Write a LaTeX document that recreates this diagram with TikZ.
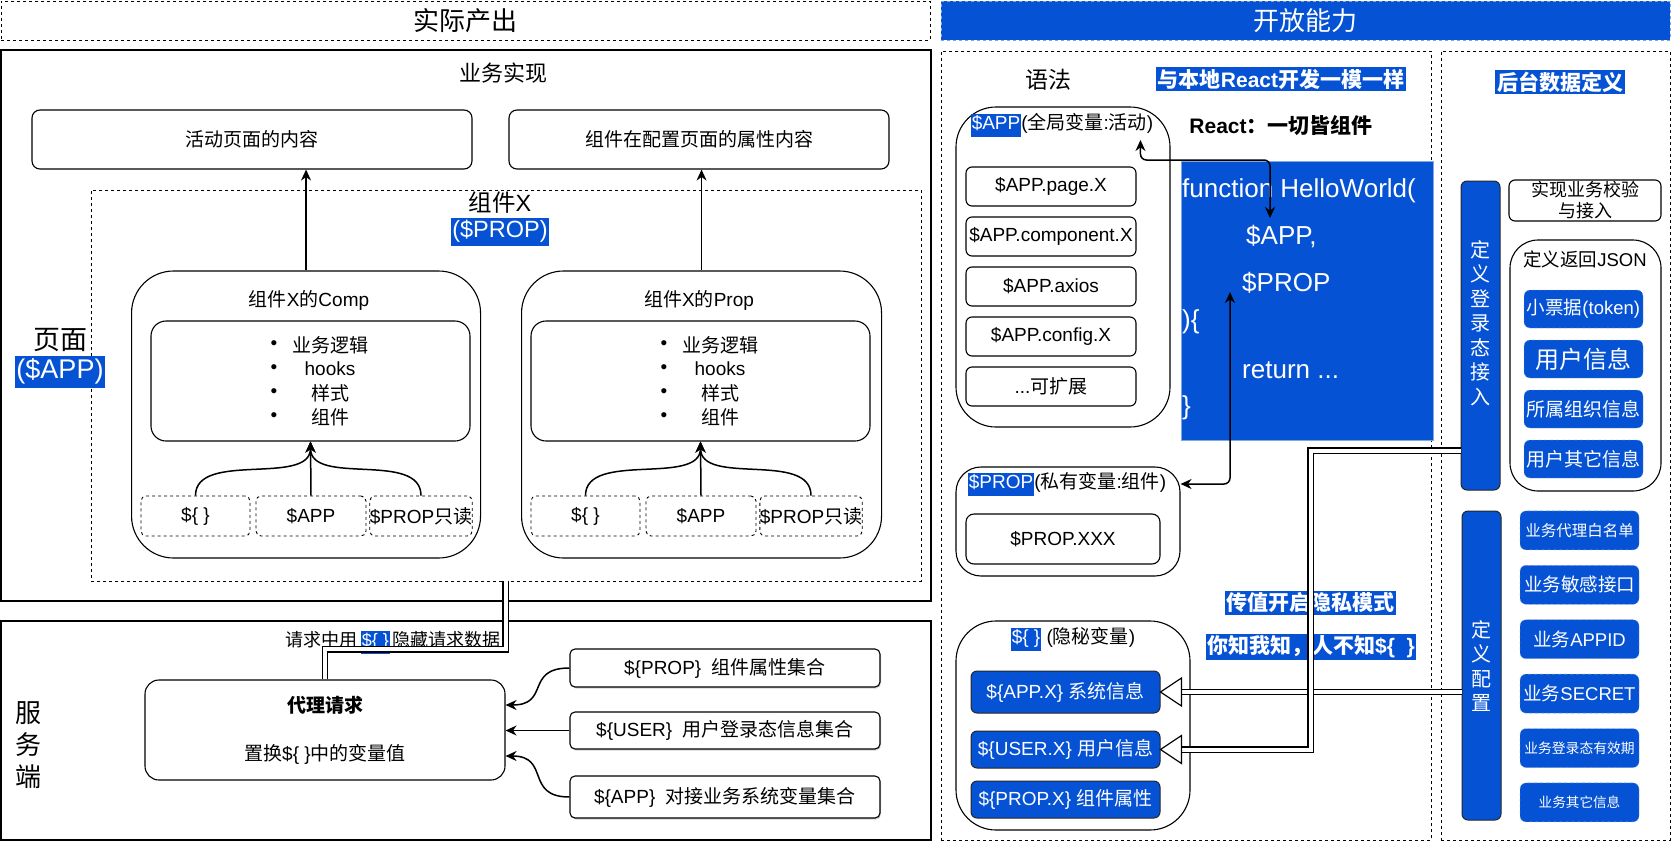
\documentclass[tikz,border=0pt]{standalone}
\usepackage{fontspec}
\setmainfont{Liberation Sans}
\newfontfamily\cjkfam{Noto Sans CJK SC}
\usepackage{xcolor}
\usepackage{tikz}
\usetikzlibrary{arrows.meta, positioning, calc, shadows}
\definecolor{ablblue}{HTML}{0652D5}
\definecolor{abledge}{HTML}{7EA6E0}

% CJK runs switch to Noto Sans CJK SC, latin runs back to Liberation Sans
\XeTeXinterchartokenstate=1
\newXeTeXintercharclass\cjkclass
\newcount\cjkcnt
\newcommand\cjkrange[2]{%
  \cjkcnt=#1\relax
  \loop\XeTeXcharclass\cjkcnt=\cjkclass\relax
    \advance\cjkcnt by 1\relax
  \ifnum\cjkcnt<#2\relax\repeat}
\cjkrange{"3000}{"3040}
\cjkrange{"4E00}{"A000}
\cjkrange{"FF00}{"FFF0}
\XeTeXinterchartoks 0 \cjkclass = {\cjkfam}
\XeTeXinterchartoks 4095 \cjkclass = {\cjkfam}
\XeTeXinterchartoks \cjkclass 0 = {\rmfamily}
\XeTeXinterchartoks \cjkclass 4095 = {\rmfamily}

% highlighted label text
\newcommand\hlt[1]{{\setlength{\fboxsep}{1pt}\colorbox{ablblue}{\color{white}\strut #1}}}
\newcommand\moredots{...}

\tikzset{
  panel/.style={draw, line width=1.1pt},
  dashpanel/.style={draw, dashed, line width=0.8pt},
  card/.style={draw, line width=1.1pt, rounded corners=8pt, align=center, font=\fontsize{19}{23}\selectfont},
  setcard/.style={card, fill=white, rounded corners=5pt, minimum width=310pt, drop shadow={shadow xshift=1pt, shadow yshift=-1.5pt, fill=black!35}},
  slot/.style={draw, dashed, line width=0.9pt, rounded corners=5pt, font=\fontsize{19}{23}\selectfont},
  codeline/.style={anchor=west, inner sep=0pt, text=white, font=\fontsize{26}{30}\selectfont},
  secretItem/.style={draw=black!85, line width=1pt, fill=ablblue, text=white, rounded corners=6pt, minimum width=189pt, minimum height=37pt, inner sep=0pt, font=\fontsize{19}{23}\selectfont},
  defItem/.style={draw=abledge, dashed, fill=ablblue, text=white, rounded corners=6pt, minimum width=119pt, minimum height=38pt, inner sep=0pt},
  hint/.style={fill=ablblue, text=white, inner sep=1.5pt, font=\bfseries\fontsize{21}{25}\selectfont},
  bar/.style={draw=black!85, line width=1pt, fill=ablblue, rounded corners=6pt, minimum width=39pt, minimum height=309pt},
  barText/.style={text=white, align=center, font=\fontsize{20}{24.5}\selectfont},
  link/.style={-{Stealth[length=11pt,width=10pt]}, line width=1.5pt},
  dlink/.style={{Stealth[length=11pt,width=10pt]}-{Stealth[length=11pt,width=10pt]}, line width=1.5pt, rounded corners=6pt},
  dbl/.style={double, double distance=4pt, line width=1.1pt},
  hollowTip/.style={draw, fill=white, line width=1.2pt, line join=miter}
}

\begin{document}
\begin{tikzpicture}[x=1pt, y=-1pt]
  % Canvas
  \fill[white] (0,0) rectangle (1671,841);
  \useasboundingbox (0,0) rectangle (1671,841);

  % Header bars
  \node[dashpanel, minimum width=929pt, minimum height=39pt, font=\fontsize{26}{30}\selectfont] (hdrOut) at (465.5,20.5) {实际产出};
  \node[draw=abledge, dashed, fill=ablblue, text=white, minimum width=729pt, minimum height=39pt, font=\fontsize{26}{30}\selectfont] (hdrOpen) at (1305.5,20.5) {开放能力};

  % Business implementation (LEFT, TOP)
  \node[panel, minimum width=930pt, minimum height=551pt] (implPanel) at (466,325.5) {};
  \node[font=\fontsize{22}{26}\selectfont] (implTitle) at (503,73) {业务实现};
  \node[card, minimum width=440pt, minimum height=59pt] (pageOut) at (252,139.5) {活动页面的内容};
  \node[card, minimum width=380pt, minimum height=59pt] (propOut) at (699,139.5) {组件在配置页面的属性内容};
  \node[dashpanel, minimum width=830pt, minimum height=391pt] (compX) at (506,385.5) {};
  \node[font=\fontsize{23.5}{27}\selectfont] (compXTitle) at (500,203) {组件X};
  \node[font=\fontsize{23.5}{26}\selectfont, inner sep=0pt] (compXVar) at (500,232) {\hlt{(\$PROP)}};
  \node[font=\fontsize{27}{31}\selectfont] (pageTitle) at (60,340) {页面};
  \node[font=\fontsize{27}{30}\selectfont, inner sep=0pt] (pageVar) at (60,372) {\hlt{(\$APP)}};

  % Comp and Prop blocks (same layout, shifted)
  \foreach \sx/\bw/\iw/\nm/\ttl/\tgt in {0/349/319/comp/组件X的Comp/pageOut, 390/360/339/prop/组件X的Prop/propOut} {
    \begin{scope}[shift={(\sx,0)}]
      \node[card, rounded corners=42pt, minimum width=\bw*1pt, minimum height=287pt, anchor=west] (\nm box) at (131,414.5) {};
      \node[card, rounded corners=15pt, minimum width=\iw*1pt, minimum height=120pt] (\nm inner) at (310.5,381) {};
      \node[font=\fontsize{19}{23}\selectfont] (\nm title) at (309,300) {\ttl};
      % bullet list
      \foreach \itm [count=\k] in {业务逻辑,hooks,样式,组件} {
        \node[font=\fontsize{19}{23}\selectfont] (\nm dot\k) at (274,321+24*\k) {•};
        \node[font=\fontsize{19}{23}\selectfont] (\nm item\k) at (330,321+24*\k) {\itm};
      }
      % context slots
      \node[slot, minimum width=109pt, minimum height=40pt] (\nm s1) at (195.5,516) {\$\{\ \}};
      \node[slot, minimum width=110pt, minimum height=40pt] (\nm s2) at (311,516) {\$APP};
      \node[slot, minimum width=100pt, minimum height=40pt, inner sep=0pt] (\nm s3) at (421,516) {\$PROP只读};
      \draw[link] (\nm s1.north) .. controls +(0,-45) and +(0,45) .. (\nm inner.south);
      \draw[link] (\nm s2.north) -- (\nm inner.south);
      \draw[link] (\nm s3.north) .. controls +(0,-45) and +(0,45) .. (\nm inner.south);
      \draw[link] (\nm box.north) -- (\nm box.north |- \tgt.south);
    \end{scope}
  }

  % Server side (LEFT, BOTTOM)
  \node[panel, minimum width=930pt, minimum height=219pt] (srvPanel) at (466,730.5) {};
  \node[font=\fontsize{26}{32}\selectfont, align=center] (srvTitle) at (29,745) {服\\务\\端};
  \node[card, rounded corners=14pt, minimum width=360pt, minimum height=100pt] (proxy) at (325,730) {{\bfseries 代理请求}\\[25pt]置换\$\{\ \}中的变量值};
  \node[font=\fontsize{18}{21}\selectfont, anchor=east, inner sep=0pt] (hideLbl) at (501,642) {请求中用\,\hlt{\$\{\ \}}\,隐藏请求数据};
  \draw[dbl] (compX.south -| proxy.east) |- ($(proxy.north)+(0,-30)$) -- (proxy.north);

  \node[setcard, minimum height=38pt] (propSet) at (725,668) {\$\{PROP\}\ \ 组件属性集合};
  \node[setcard, minimum height=37pt] (userSet) at (725,730.5) {\$\{USER\}\ \ 用户登录态信息集合};
  \node[setcard, minimum height=42pt] (appSet) at (725,797) {\$\{APP\}\ \ 对接业务系统变量集合};
  \draw[link] (propSet.west) .. controls +(-45,0) and +(45,0) .. ($(proxy.east)+(0,-25)$);
  \draw[link] (userSet.west) -- (userSet.west -| proxy.east);
  \draw[link] (appSet.west) .. controls +(-45,0) and +(45,0) .. ($(proxy.east)+(0,26)$);

  % Syntax panel (RIGHT)
  \node[dashpanel, minimum width=490pt, minimum height=789pt] (syntaxPanel) at (1186,445.5) {};
  \node[dashpanel, minimum width=229pt, minimum height=789pt] (backPanel) at (1555.5,445.5) {};
  \node[font=\fontsize{23}{27}\selectfont] (syntaxTitle) at (1048,80) {语法};
  \node[hint, inner sep=2pt] (sameHl) at (1281,79) {与本地React开发一模一样};
  \node[font=\bfseries\fontsize{21}{25}\selectfont] (reactAll) at (1281,126) {React：一切皆组件};

  % $APP global variables
  \node[card, rounded corners=40pt, minimum width=214pt, minimum height=320pt] (appVar) at (1063,267) {};
  \node[font=\fontsize{19}{21}\selectfont, inner sep=0pt] (appTitle) at (1062,125) {\hlt{\$APP}(全局变量:活动)};
  \foreach \itm [count=\k] in {\$APP.page.X,\$APP.component.X,\$APP.axios,\$APP.config.X,\moredots{}可扩展} {
    \node[card, rounded corners=6pt, minimum width=170pt, minimum height=39pt, inner sep=0pt] (appItem\k) at (1051,136.5+50*\k) {\itm};
  }

  % Code block
  \node[draw=abledge, fill=ablblue, minimum width=252pt, minimum height=279pt] (code) at (1307,300.5) {};
  \node[codeline] (codeFn) at (1182,191) {function HelloWorld(};
  \node[codeline] (codeApp) at (1246,237) {\$APP,};
  \node[codeline] (codeProp) at (1242,283) {\$PROP};
  \node[codeline] (codeOpen) at (1182,322) {)\{};
  \node[codeline] (codeRet) at (1242,370) {return \moredots};
  \node[codeline] (codeClose) at (1182,408) {\}};
  \draw[dlink] ($(appTitle.east)+(-13,15)$) -- ++(0,20) -| ($(codeApp.west)+(24,-19)$);

  % $PROP private variables
  \node[card, rounded corners=25pt, minimum width=224pt, minimum height=109pt] (propVar) at (1068,521.5) {};
  \node[font=\fontsize{19}{21}\selectfont, inner sep=0pt] (propTitle) at (1067,484) {\hlt{\$PROP}(私有变量:组件)};
  \node[card, rounded corners=8pt, minimum width=194pt, minimum height=50pt] (propXXX) at (1063,539) {\$PROP.XXX};
  \draw[dlink] (propVar.east |- propTitle) -| ($(codeProp.west)+(-12,9)$);

  % ${ } secret variables
  \node[card, rounded corners=40pt, minimum width=234pt, minimum height=209pt] (secretVar) at (1073,725.5) {};
  \node[font=\fontsize{19}{21}\selectfont, inner sep=0pt] (secretTitle) at (1073,639) {\hlt{\$\{\ \}} (隐秘变量)};
  \node[secretItem, minimum height=42pt] (secApp) at (1065.5,692) {\$\{APP.X\} 系统信息};
  \node[secretItem] (secUser) at (1065.5,749.5) {\$\{USER.X\} 用户信息};
  \node[secretItem] (secProp) at (1065.5,799.5) {\$\{PROP.X\} 组件属性};
  \node[hint] (hint1) at (1310,603) {传值开启隐私模式};
  \node[hint] (hint2) at (1311,647) {你知我知，人不知\$\{\ \ \}};

  % Backend data definitions
  \node[hint, inner sep=2pt] (backTitle) at (1560,82) {后台数据定义};
  \node[bar] (loginBar) at (1480.5,335.5) {};
  \node[barText] (loginLbl) at (1480,323) {定\\义\\登\\录\\态\\接\\入};
  \node[bar] (cfgBar) at (1481.5,665.5) {};
  \node[barText] (cfgLbl) at (1481,666) {定\\义\\配\\置};
  \node[card, rounded corners=6pt, minimum width=152pt, minimum height=41pt, inner sep=0pt, font=\fontsize{18}{21}\selectfont] (verify) at (1585,200.5) {实现业务校验\\与接入};
  \node[card, rounded corners=28pt, minimum width=151pt, minimum height=251pt] (jsonBox) at (1585.5,365.5) {};
  \node[font=\fontsize{18.5}{22}\selectfont] (jsonTitle) at (1585,259) {定义返回JSON};
  \foreach \itm/\fz [count=\k] in {小票据(token)/18.5,用户信息/24,所属组织信息/19,用户其它信息/19} {
    \node[defItem, font=\fontsize{\fz}{\fz}\selectfont] (jsonItem\k) at (1583.5,259+50*\k) {\itm};
  }
  \foreach \itm/\fz [count=\k] in {业务代理白名单/15.5,业务敏感接口/18.5,业务APPID/18.5,业务SECRET/18.5,业务登录态有效期/13.8,业务其它信息/13.6} {
    \node[defItem, minimum height=39pt, font=\fontsize{\fz}{\fz}\selectfont] (cfgItem\k) at (1579.5,476+54.4*\k) {\itm};
  }

  % Double connectors into the secret variables
  \draw[dbl] (cfgBar.west |- secApp.east) -- ($(secApp.east)+(21,0)$);
  \draw[hollowTip] (secApp.east) -- ++(21,-14) -- ++(0,28) -- cycle;
  \draw[dbl] ($(loginBar.south west)+(0,-40)$) -| ($(secUser.east)+(150,0)$) -- ($(secUser.east)+(21,0)$);
  \draw[hollowTip] (secUser.east) -- ++(21,-14) -- ++(0,28) -- cycle;
\end{tikzpicture}
\end{document}
